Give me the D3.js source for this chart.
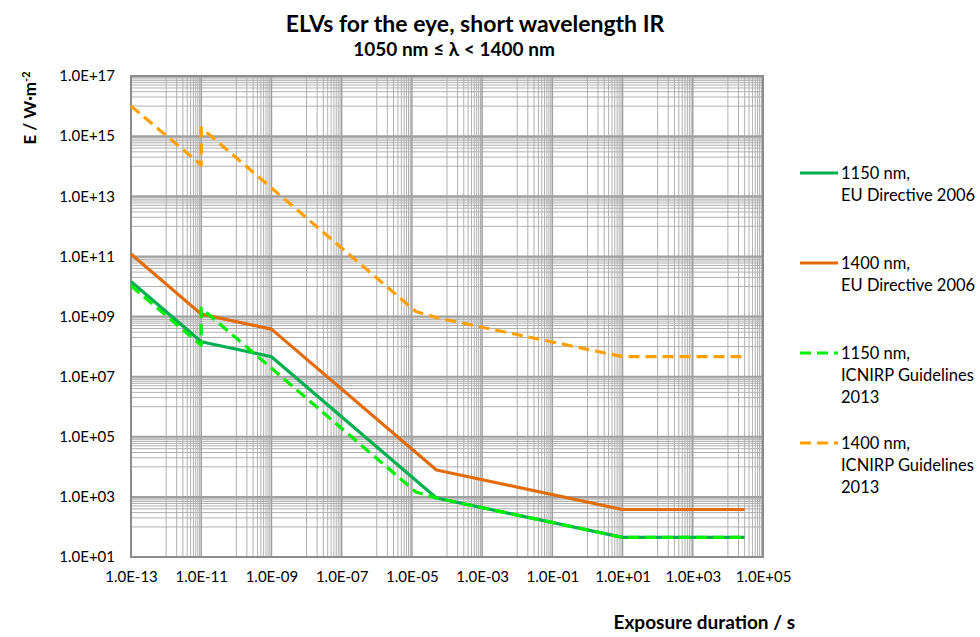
<!DOCTYPE html>
<html>
<head>
<meta charset="utf-8">
<script src="https://cdn.jsdelivr.net/npm/d3@7/dist/d3.min.js"></script>
<style>
  body { margin: 0; background: #fff; }
  text { font-family: Lato, "Open Sans", sans-serif; fill: #000; }
  .tick-label { font-size: 15px; }
  .title { font-size: 23px; font-weight: bold; }
  .subtitle { font-size: 19px; font-weight: bold; }
  .axis-title { font-size: 17px; font-weight: bold; }
  .legend-text { font-size: 16.5px; }
</style>
</head>
<body>
<div id="chart"></div>
<script>
// exposure durations in s (breakpoints)
var tEU = [1e-13, 1e-11, 1e-9, 5e-5, 10, 3e4];
var tICNIRP = [1e-13, 1e-11, 1e-11, 1.3e-5, 5e-5, 10, 3e4];

// irradiance E in W/m2
var eu1150 = [1.45e10, 1.45e8, 4.6e7, 920, 45, 45];
var eu1400 = [1.2e11, 1.2e9, 3.8e8, 7.8e3, 380, 380];
var icnirp1150 = [1.05e10, 1.1e8, 1.9e9, 1.46e3, 920, 45, 45];
var icnirp1400 = [1e16, 1.1e14, 1.9e15, 1.46e9, 9.2e8, 4.6e7, 4.6e7];

var xTicks = [1e-13, 1e-11, 1e-9, 1e-7, 1e-5, 1e-3, 1e-1, 1e1, 1e3, 1e5];
var yTicks = [1e1, 1e3, 1e5, 1e7, 1e9, 1e11, 1e13, 1e15, 1e17];

var seriesNames = [
  ["1150 nm,", "EU Directive 2006"],
  ["1400 nm,", "EU Directive 2006"],
  ["1150 nm,", "ICNIRP Guidelines", "2013"],
  ["1400 nm,", "ICNIRP Guidelines", "2013"]
];

var margin = {top: 76, right: 217, bottom: 80, left: 131};
var width = 980 - margin.left - margin.right;
var height = 637 - margin.top - margin.bottom;

var svg = d3.select('#chart')
  .append('svg')
    .attr('width', 980)
    .attr('height', 637);

var g = svg.append('g')
  .attr('transform', 'translate(' + margin.left + ',' + margin.top + ')');

var x = d3.scaleLog().domain([1e-13, 1e5]).range([0, width]);
var y = d3.scaleLog().domain([1e1, 1e17]).range([height, 0]);

function sci(v) {
  var e = Math.round(Math.log10(v));
  var s = Math.abs(e) < 10 ? '0' + Math.abs(e) : '' + Math.abs(e);
  return '1.0E' + (e < 0 ? '-' : '+') + s;
}

// minor grid: 10,20,...,90 x each major value (log base 100 axis)
function minors(ticks, max) {
  var out = [];
  ticks.forEach(function(m) {
    for (var k = 1; k <= 9; k++) {
      var v = m * k * 10;
      if (v < max) out.push(v);
    }
  });
  return out;
}

g.selectAll('.vminor')
  .data(minors(xTicks, 1e5))
  .enter().append('line')
    .attr('x1', function(d) { return x(d); })
    .attr('x2', function(d) { return x(d); })
    .attr('y1', 0).attr('y2', height)
    .attr('stroke', '#b0b0b0').attr('stroke-width', 1);

g.selectAll('.hminor')
  .data(minors(yTicks, 1e17))
  .enter().append('line')
    .attr('y1', function(d) { return y(d); })
    .attr('y2', function(d) { return y(d); })
    .attr('x1', 0).attr('x2', width)
    .attr('stroke', '#b0b0b0').attr('stroke-width', 1);

g.selectAll('.vmajor')
  .data(xTicks)
  .enter().append('line')
    .attr('x1', function(d) { return x(d); })
    .attr('x2', function(d) { return x(d); })
    .attr('y1', 0).attr('y2', height)
    .attr('stroke', '#a0a0a0').attr('stroke-width', 1.5);

g.selectAll('.hmajor')
  .data(yTicks)
  .enter().append('line')
    .attr('y1', function(d) { return y(d); })
    .attr('y2', function(d) { return y(d); })
    .attr('x1', 0).attr('x2', width)
    .attr('stroke', '#a0a0a0').attr('stroke-width', 2);

g.append('rect')
  .attr('width', width).attr('height', height)
  .attr('fill', 'none').attr('stroke', '#8c8c8c').attr('stroke-width', 2);

// axes: only labels, Excel style
var xAxis = g.append('g')
  .attr('transform', 'translate(0,' + height + ')')
  .call(d3.axisBottom(x).tickValues(xTicks).tickFormat(sci).tickSize(0).tickPadding(14));
var yAxis = g.append('g')
  .call(d3.axisLeft(y).tickValues(yTicks).tickFormat(sci).tickSize(0).tickPadding(16));
[xAxis, yAxis].forEach(function(a) {
  a.select('.domain').remove();
  a.selectAll('text').attr('class', 'tick-label').attr('fill', '#000')
    .style('font-family', 'Lato, sans-serif').style('font-size', '15px');
});

var line = d3.line()
  .x(function(d) { return x(d[0]); })
  .y(function(d) { return y(d[1]); });

var series = [
  {t: tEU, e: eu1150, color: '#00b050', dash: null},
  {t: tEU, e: eu1400, color: '#e36c0a', dash: null},
  {t: tICNIRP, e: icnirp1150, color: '#00ee00', dash: '11,6'},
  {t: tICNIRP, e: icnirp1400, color: '#ffa000', dash: '11,6'}
];

series.forEach(function(s) {
  g.append('path')
    .datum(d3.zip(s.t, s.e))
    .attr('d', line)
    .attr('fill', 'none')
    .attr('stroke', s.color)
    .attr('stroke-width', 3.2)
    .attr('stroke-linejoin', 'round')
    .attr('stroke-dasharray', s.dash);
});

// legend
var legend = svg.append('g').attr('transform', 'translate(800,173)');
series.forEach(function(s, i) {
  var row = legend.append('g').attr('transform', 'translate(0,' + (i * 90) + ')');
  row.append('line')
    .attr('x1', 0).attr('x2', 38).attr('y1', 0).attr('y2', 0)
    .attr('stroke', s.color).attr('stroke-width', 3.2)
    .attr('stroke-dasharray', s.dash);
  seriesNames[i].forEach(function(txt, j) {
    row.append('text')
      .attr('class', 'legend-text')
      .attr('x', 41).attr('y', j * 22)
      .attr('dy', '0.35em')
      .text(txt);
  });
});

// titles
svg.append('text')
  .attr('class', 'title')
  .attr('x', 475).attr('y', 24)
  .attr('dy', '0.35em')
  .style('text-anchor', 'middle')
  .text('ELVs for the eye, short wavelength IR');

svg.append('text')
  .attr('class', 'subtitle')
  .attr('x', 454).attr('y', 49)
  .attr('dy', '0.35em')
  .style('text-anchor', 'middle')
  .text('1050 nm \u2264 \u03bb < 1400 nm');

var yt = svg.append('text')
  .attr('class', 'axis-title')
  .attr('transform', 'translate(30,108) rotate(-90)')
  .attr('dy', '0.35em')
  .style('text-anchor', 'middle');
yt.append('tspan').text('E / W\u00b7m');
yt.append('tspan').attr('dy', '-0.5em').style('font-size', '11px').text('-2');

svg.append('text')
  .attr('class', 'axis-title')
  .attr('x', 795).attr('y', 622)
  .attr('dy', '0.35em')
  .style('text-anchor', 'end')
  .style('font-size', '19px')
  .text('Exposure duration  / s');
</script>
</body>
</html>
